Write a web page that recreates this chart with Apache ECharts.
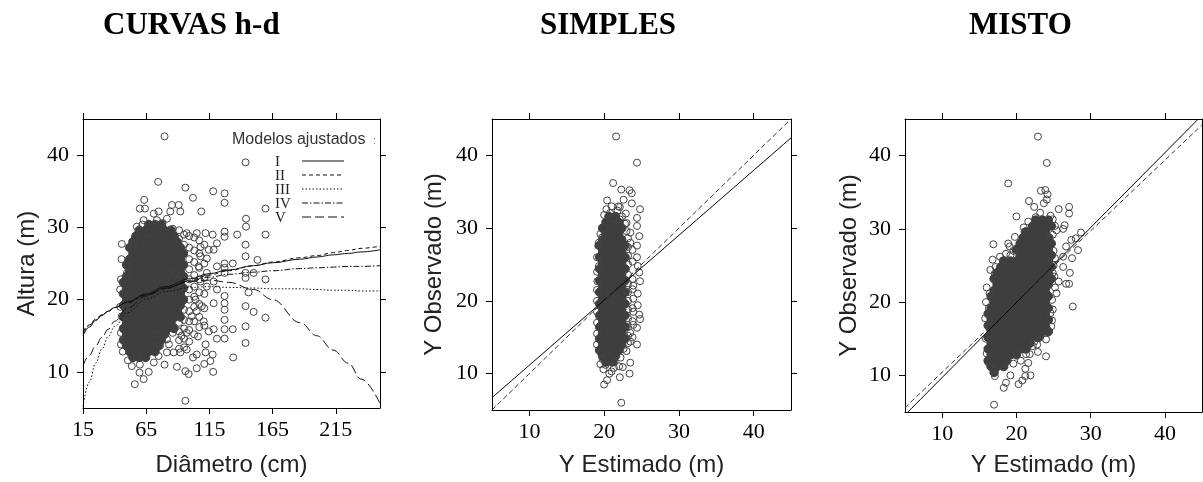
<!DOCTYPE html>
<html><head><meta charset="utf-8">
<script src="https://cdn.jsdelivr.net/npm/echarts@6/dist/echarts.min.js"></script>
<style>html,body{margin:0;padding:0;background:#fff}#c{width:1203px;height:482px}</style>
</head><body><div id="c"></div>
<script>
// ---------- texts & ticks ----------
const titles = ['CURVAS h-d', 'SIMPLES', 'MISTO'];
const xNames = ['Diâmetro (cm)', 'Y Estimado (m)', 'Y Estimado (m)'];
const yNames = ['Altura (m)', 'Y Observado (m)', 'Y Observado (m)'];
const xTicks1 = [15, 65, 115, 165, 215];
const xTicks23 = [10, 20, 30, 40];
const yTicks = [10, 20, 30, 40];
const legendTitle = 'Modelos ajustados';
const modelNames = ['I', 'II', 'III', 'IV', 'V'];

// ---------- fitted h-d curves (panel 1) ----------
const curveD  = [15, 20, 25, 30, 35, 40, 50, 65, 80, 100, 115, 130, 150, 165, 187, 200, 213, 225, 235, 250];
const curveI  = [15.0,16.2,17.1,17.8,18.4,18.9,19.7,20.8,21.8,22.9,23.6,24.1,24.7,25.1,25.6,25.9,26.2,26.4,26.6,26.9];
const curveII = [15.6,16.5,17.3,17.9,18.4,18.9,19.6,20.6,21.5,22.7,23.4,24.0,24.7,25.2,25.8,26.1,26.5,26.8,27.1,27.4];
const curveIII= [5.2,8.6,11.2,13.2,14.9,16.3,18.2,20.1,21.1,21.7,21.8,21.7,21.6,21.5,21.5,21.4,21.3,21.3,21.2,21.2];
const curveIV = [15.3,16.4,17.2,17.9,18.4,18.9,19.6,20.7,21.6,22.6,23.1,23.5,23.8,24.0,24.3,24.4,24.5,24.6,24.6,24.7];
const curveV  = [10.8,12.3,13.6,14.8,15.9,17.0,18.8,20.5,21.6,22.5,22.7,22.4,21.4,20.0,16.8,15.0,13.0,11.2,9.0,5.6];

// ---------- panel 2 / 3 lines ----------
const simplesFit = [[5, 6.7], [45, 42.4]];
const simplesRef = [[5, 5], [45, 45]];
const mistoFit = [[5.4, 5], [44.5, 45]];
const mistoRef = [[5, 5.6], [45, 44.2]];

// ---------- panel 1 points (D, H) ----------
// dense core, rows: [H, [D...]]
const core1 = [
 [30.4,[67,72,77]],
 [29.6,[59.5,64.5,69.5,74.5,79.5,84.5]],
 [28.8,[57,62,67,72,77,82,87]],
 [28.0,[54.5,59.5,64.5,69.5,74.5,79.5,84.5,89.5]],
 [27.2,[52,57,62,67,72,77,82,87,92]],
 [26.4,[54.5,59.5,64.5,69.5,74.5,79.5,84.5,89.5,94.5]],
 [25.6,[52,57,62,67,72,77,82,87,92]],
 [24.8,[49.5,54.5,59.5,64.5,69.5,74.5,79.5,84.5,89.5,94.5]],
 [24.0,[52,57,62,67,72,77,82,87,92]],
 [23.2,[49.5,54.5,59.5,64.5,69.5,74.5,79.5,84.5,89.5,94.5]],
 [22.4,[47,52,57,62,67,72,77,82,87,92]],
 [21.6,[49.5,54.5,59.5,64.5,69.5,74.5,79.5,84.5,89.5,94.5]],
 [20.8,[47,52,57,62,67,72,77,82,87,92]],
 [20.0,[49.5,54.5,59.5,64.5,69.5,74.5,79.5,84.5,89.5,94.5]],
 [19.2,[47,52,57,62,67,72,77,82,87,92]],
 [18.4,[49.5,54.5,59.5,64.5,69.5,74.5,79.5,84.5,89.5]],
 [17.6,[47,52,57,62,67,72,77,82,87,92]],
 [16.8,[49.5,54.5,59.5,64.5,69.5,74.5,79.5,84.5]],
 [16.0,[47,52,57,62,67,72,77,82,87]],
 [15.2,[49.5,54.5,59.5,64.5,69.5,74.5,79.5]],
 [14.4,[47,52,57,62,67,72,77]],
 [13.6,[49.5,54.5,59.5,64.5,69.5,74.5]],
 [12.8,[52,57,62,67,72]],
 [12.0,[54.5,59.5,64.5]]
];
// vertical strings of points, [D, [H...]]
const cols1 = [
 [91,[29.6,28.4,16.8,15.6,14.4,13.2]],
 [95,[29.0,27.6,18.6,17.2,16.0,14.6,13.4]],
 [99,[28.8,27.2,25.6,24.2,22.8,21.4,20.0,18.4,17.0,15.8,14.2]],
 [103,[28.6,26.8,25.2,23.4,21.8,20.4,19.0,17.0,15.2]],
 [107,[28.2,26.4,24.4,22.8,21.0,19.4,17.6,16.2]],
 [111,[27.6,25.0,23.0,20.8,18.8,16.4]]
];
const pts1 = [[79.5,42.6],[143.6,39.0],[74.5,36.3],[96,35.5],[102,34.1],[118,35.0],[127,34.7],[127,33.4],[63.4,33.8],[60,32.6],[64,32.6],[85.4,33.1],[90.7,33.1],[92,32.2],[108.6,32.2],[159.4,32.6],[144,31.2],[144,30.1],[159.4,29.0],[137,29.0],[127,29.4],[127,28.7],[117.6,29.0],[112,29.2],[105,29.2],[97,29.2],[143.6,27.6],[143.6,26.0],[153,25.5],[133.5,25.0],[127,25.0],[127,24.4],[127,23.7],[45.7,27.7],[143.6,23.7],[150,23.7],[159.4,22.8],[143.6,23.0],[146,21.0],[143.6,19.1],[150,18.3],[159.4,17.5],[143.6,16.3],[143.6,14.0],[133.5,15.9],[127,15.9],[127,14.6],[127,17.2],[127,18.6],[127,19.5],[127,20.5],[118.4,19.5],[118.4,15.9],[121,14.6],[114.5,15.6],[112,13.8],[112,12.7],[117.6,12.4],[115.8,11.5],[118,10.0],[111,11.1],[133.8,12.0],[105,12.4],[105,10.5],[102,12.0],[106,14.9],[96,10.1],[98.6,9.7],[96,6.0],[89.3,10.7],[79.5,11.0],[81.4,12.7],[86.7,12.7],[92,12.7],[97,13.1],[93,15.0],[97,15.4],[101,17.7],[105,18.4],[104,20.0],[109,19.1],[110.5,17.0],[108,22.5],[113,21.8],[113,23.7],[118.4,22.5],[121,21.4],[113,25.7],[114.5,26.9],[108,26.0],[108,27.3],[106.5,24.6],[118.4,26.9],[121,27.8],[121,24.6],[59.7,9.9],[63,9.0],[56,8.3],[67,10.0],[60,11.0],[53.6,10.8],[57.6,12.0],[71,11.3],[74.8,12.2],[76,13.6],[81.4,14.5],[73.5,15.2],[45,13.8],[45,15.4],[45.7,17.7],[44.4,21.4],[45,22.8],[49.7,23.7],[51,25.5],[49.7,24.8],[55,27.3],[56.3,28.7],[57.6,30.1],[63,31.0],[71,31.9],[74.8,32.2],[81.4,31.2],[84,32.2],[73.5,31.0],[67,29.2],[44.5,19.0],[45.5,25.6],[46.5,12.8],[50.5,11.6],[86,29.8],[88,23.6],[88.5,18.6],[86,15.4],[83,13.8],[62,30.4],[78,30.6]];

// ---------- panel 2 points (Y estimado simples, H) ----------
const core2 = [
 [31.6,[20.65,21.5]],
 [30.8,[20.25,21.1,21.95]],
 [30.0,[19.8,20.65,21.5,22.35]],
 [29.2,[20.25,21.1,21.95]],
 [28.4,[19.8,20.65,21.5,22.35]],
 [27.6,[19.4,20.25,21.1,21.95,22.8]],
 [26.8,[19.8,20.65,21.5,22.35]],
 [26.0,[19.4,20.25,21.1,21.95,22.8]],
 [25.2,[19.8,20.65,21.5,22.35]],
 [24.4,[19.4,20.25,21.1,21.95,22.8]],
 [23.6,[19.8,20.65,21.5,22.35]],
 [22.8,[19.4,20.25,21.1,21.95,22.8]],
 [22.0,[19.8,20.65,21.5,22.35]],
 [21.2,[19.4,20.25,21.1,21.95,22.8]],
 [20.4,[19.8,20.65,21.5,22.35]],
 [19.6,[19.4,20.25,21.1,21.95,22.8]],
 [18.8,[19.8,20.65,21.5,22.35]],
 [18.0,[19.4,20.25,21.1,21.95,22.8]],
 [17.2,[19.8,20.65,21.5,22.35]],
 [16.4,[19.4,20.25,21.1,21.95,22.8]],
 [15.6,[19.8,20.65,21.5,22.35]],
 [14.8,[19.4,20.25,21.1,21.95,22.8]],
 [14.0,[19.8,20.65,21.5,22.35]],
 [13.2,[19.4,20.25,21.1,21.95]],
 [12.4,[19.8,20.65,21.5]],
 [11.6,[20.25,21.1]]
];
const cols2 = [
 [23.2,[28.6,27.4,26.2,25.0,23.6,22.4,21.2,20.0,18.8,17.6,16.4,15.2,14.2]],
 [23.8,[27.0,25.4,23.0,21.6,19.0,17.2,15.0]],
 [19.05,[26.0,24.0,21.5,20.0,18.5,17.0,15.5,14.0]]
];
const pts2 = [[21.6,42.6],[24.4,39.0],[21.2,36.2],[22.3,35.3],[23.4,35.2],[23.7,34.8],[22.6,33.9],[23.7,33.4],[20.4,33.8],[21.9,33.0],[22.1,32.9],[24.8,32.6],[22.9,32.0],[24.4,31.4],[24.4,30.3],[24.7,28.9],[19.2,27.6],[24.4,27.6],[24.4,26.0],[24.5,24.8],[24.7,23.9],[24.8,22.7],[24.5,21.0],[24.5,19.4],[24.7,18.1],[24.8,17.5],[24.4,16.3],[24.4,14.0],[23.5,15.6],[23.5,14.4],[23.0,13.1],[23.5,11.5],[23.4,10.0],[22.5,10.9],[22.1,9.5],[21.3,10.8],[20.7,10.0],[20.4,9.1],[20.0,8.5],[22.3,6.0],[19.5,11.3],[19.8,12.0],[19.1,22.7],[19.3,24.8],[19.7,28.7],[20.0,30.0],[23.9,20.3],[23.9,22.1],[23.9,18.5],[23.9,16.7],[23.5,28.0],[23.5,29.4],[23.0,30.7],[22.1,31.2],[21.2,31.4],[20.8,32.1],[20.3,32.6],[21.0,33.0],[21.8,32.4],[22.4,31.6],[20.0,31.8],[22.8,30.6],[23.0,29.6],[19.5,29.2],[19.3,28.0],[19.6,12.8],[20.2,11.2],[21.4,11.6],[22.2,12.2],[22.6,13.4],[19.9,10.6],[21.0,10.3],[22.0,11.0]];

// ---------- panel 3 points (Y estimado misto, H) ----------
const core3 = [
 [31.2,[22.6,23.5,24.3]],
 [30.4,[22.2,23.0,23.9,24.7]],
 [29.6,[21.3,22.2,23.0,23.9]],
 [28.8,[20.9,21.8,22.6,23.5,24.3]],
 [28.0,[20.5,21.3,22.2,23.0,23.9,24.7]],
 [27.2,[20.0,20.9,21.8,22.6,23.5,24.3]],
 [26.4,[20.5,21.3,22.2,23.0,23.9,24.7]],
 [25.6,[18.3,19.2,20.0,20.9,21.8,22.6,23.5,24.3]],
 [24.8,[17.9,18.7,19.6,20.5,21.3,22.2,23.0,23.9,24.7]],
 [24.0,[17.4,18.3,19.2,20.0,20.9,21.8,22.6,23.5,24.3]],
 [23.2,[17.0,17.9,18.7,19.6,20.5,21.3,22.2,23.0,23.9,24.7]],
 [22.4,[17.4,18.3,19.2,20.0,20.9,21.8,22.6,23.5,24.3]],
 [21.6,[17.0,17.9,18.7,19.6,20.5,21.3,22.2,23.0,23.9]],
 [20.8,[16.6,17.4,18.3,19.2,20.0,20.9,21.8,22.6,23.5,24.3]],
 [20.0,[17.0,17.9,18.7,19.6,20.5,21.3,22.2,23.0,23.9]],
 [19.2,[16.6,17.4,18.3,19.2,20.0,20.9,21.8,22.6,23.5,24.3]],
 [18.4,[16.2,17.0,17.9,18.7,19.6,20.5,21.3,22.2,23.0,23.9]],
 [17.6,[16.6,17.4,18.3,19.2,20.0,20.9,21.8,22.6,23.5,24.3]],
 [16.8,[16.2,17.0,17.9,18.7,19.6,20.5,21.3,22.2,23.0,23.9]],
 [16.0,[16.6,17.4,18.3,19.2,20.0,20.9,21.8,22.6,23.5,24.3]],
 [15.2,[16.2,17.0,17.9,18.7,19.6,20.5,21.3,22.2,23.0]],
 [14.4,[16.6,17.4,18.3,19.2,20.0,20.9,21.8]],
 [13.6,[16.2,17.0,17.9,18.7,19.6,20.5,21.3]],
 [12.8,[16.6,17.4,18.3,19.2,20.0]],
 [12.0,[16.2,17.0,17.9,18.7]],
 [11.2,[16.6,17.4,18.3]],
 [10.4,[17.0]]
];
const pts3 = [[22.9,42.6],[24.1,39.0],[18.9,36.2],[23.3,35.2],[23.9,35.3],[24.2,34.7],[21.7,33.8],[22.4,33.0],[23.7,33.5],[24.1,34.0],[25.7,32.7],[27.1,33.0],[27.1,32.1],[20.0,31.7],[22.6,31.6],[24.9,31.3],[26.5,30.5],[26.3,30.0],[25.4,29.8],[19.8,28.9],[18.9,28.0],[19.1,27.6],[16.9,27.9],[21.1,29.6],[28.7,29.5],[28.0,28.7],[27.4,28.5],[26.7,27.6],[28.3,27.1],[26.3,26.2],[27.5,26.0],[26.3,24.8],[27.2,24.0],[26.7,22.5],[27.1,22.5],[25.7,22.8],[25.4,21.2],[25.1,23.5],[27.6,19.4],[24.0,12.6],[22.9,13.2],[21.6,11.7],[21.2,10.9],[21.9,10.0],[21.2,9.9],[20.8,9.3],[20.3,8.8],[19.2,10.0],[18.6,9.0],[18.3,8.3],[17.0,6.0],[16.9,10.8],[17.1,9.9],[16.5,11.3],[16.4,16.7],[16.3,19.2],[16.5,24.4],[17.1,23.9],[17.8,26.2],[18.2,25.7],[21.3,12.9],[20.0,12.9],[22.2,14.0],[24.0,14.9],[24.2,15.8],[24.7,16.7],[24.6,18.5],[24.8,20.3],[16.0,22.0],[15.9,20.0],[15.8,17.8],[15.9,15.0],[16.0,13.0],[16.2,11.8],[16.4,21.2],[16.8,25.8],[17.2,24.8],[19.2,26.4],[19.6,27.0],[18.6,26.6],[25.0,27.0],[25.2,26.0],[25.0,25.0],[24.9,24.0],[25.2,22.0],[24.9,19.0],[24.8,17.5],[24.5,28.8],[24.9,29.2],[21.0,13.6],[22.4,14.6],[23.2,15.2],[22.8,14.2],[21.8,12.9],[20.6,12.0],[19.6,11.6],[21.6,31.0],[21.0,30.2],[24.6,31.8],[25.2,30.4],[23.2,32.2]];

// ---------- helpers ----------
function rowsToPairs(rows){ const o=[]; rows.forEach(r=>r[1].forEach(x=>o.push([x,r[0]]))); return o; }
function colsToPairs(cols){ const o=[]; cols.forEach(c=>c[1].forEach(y=>o.push([c[0],y]))); return o; }

const grids = [
  {left:83, top:119, width:297, height:290},
  {left:492, top:119, width:299, height:294},
  {left:905, top:119, width:297, height:294}
];
const xRanges = [[15,250],[5,45],[5,45]];
const xTickSets = [xTicks1, xTicks23, xTicks23];
const xNameGaps = [45, 43, 41];
const yNameGaps = [44, 46, 44];

const LABEL = {fontFamily:'"Liberation Serif", "Times New Roman", serif', fontSize:22, color:'#000'};
const NAME = {fontFamily:'"Liberation Sans", Arial, sans-serif', fontSize:24, color:'#222'};
const LINE = {show:true, onZero:false, lineStyle:{color:'#000', width:1}};

const xAxis = [], yAxis = [];
for (let i = 0; i < 3; i++) {
  const t = xTickSets[i];
  xAxis.push({type:'value', gridIndex:i, position:'bottom', min:xRanges[i][0], max:xRanges[i][1],
    axisLine:LINE, splitLine:{show:false},
    axisTick:{show:true, inside:false, length:6, customValues:t, lineStyle:{color:'#000'}},
    axisLabel:{show:true, customValues:t, margin:11, ...LABEL},
    name:xNames[i], nameLocation:'middle', nameGap:xNameGaps[i], nameTextStyle:NAME});
  xAxis.push({type:'value', gridIndex:i, position:'top', min:xRanges[i][0], max:xRanges[i][1],
    axisLine:LINE, splitLine:{show:false},
    axisTick:{show:true, inside:false, length:6, customValues:t, lineStyle:{color:'#000'}},
    axisLabel:{show:false}});
  yAxis.push({type:'value', gridIndex:i, position:'left', min:5, max:45,
    axisLine:LINE, splitLine:{show:false},
    axisTick:{show:true, inside:false, length:6, customValues:yTicks, lineStyle:{color:'#000'}},
    axisLabel:{show:true, customValues:yTicks, margin:14, ...LABEL},
    name:yNames[i], nameLocation:'middle', nameGap:yNameGaps[i], nameTextStyle:NAME});
  yAxis.push({type:'value', gridIndex:i, position:'right', min:5, max:45,
    axisLine:LINE, splitLine:{show:false},
    axisTick:{show:true, inside:false, length:6, customValues:yTicks, lineStyle:{color:'#000'}},
    axisLabel:{show:false}});
}

const coreStyle = {color:'#3e3e3e', borderColor:'#3e3e3e', borderWidth:1, opacity:1};
const hollowStyle = {color:'rgba(0,0,0,0)', borderColor:'#444', borderWidth:1, opacity:1};
function core(i, data){ return {type:'scatter', xAxisIndex:2*i, yAxisIndex:2*i, data, symbol:'circle', symbolSize:8.5, itemStyle:coreStyle, z:2, silent:true}; }
function hollow(i, data){ return {type:'scatter', xAxisIndex:2*i, yAxisIndex:2*i, data, symbol:'circle', symbolSize:7, itemStyle:hollowStyle, z:2, silent:true}; }
function line(i, data, dash, color){ return {type:'line', xAxisIndex:2*i, yAxisIndex:2*i, data, showSymbol:false, symbol:'none', smooth:0.4, smoothMonotone:'x',
  lineStyle:{color:color||'#111', width:1, type:dash}, z:5, silent:true}; }
const zip = arr => curveD.map((d,k)=>[d, arr[k]]);

const series = [
  core(0, rowsToPairs(core1)), hollow(0, colsToPairs(cols1)), hollow(0, pts1),
  line(0, zip(curveI), 'solid'), line(0, zip(curveII), [4,3]), line(0, zip(curveIII), [1.5,2]),
  line(0, zip(curveIV), [6,2,1.5,2]), line(0, zip(curveV), [9,4]),
  core(1, rowsToPairs(core2)), hollow(1, colsToPairs(cols2)), hollow(1, pts2),
  line(1, simplesFit, 'solid', '#000'), line(1, simplesRef, [5,3], '#333'),
  core(2, rowsToPairs(core3)), hollow(2, pts3),
  line(2, mistoFit, 'solid', '#000'), line(2, mistoRef, [5,3], '#333')
];

// legend drawn inside panel 1
const legendY = [161, 175, 189, 203, 217];
const legendDash = [null, [4,3], [1.5,2], [6,2,1.5,2], [9,4]];
const graphic = [
  {type:'text', x:232, y:140, style:{text:legendTitle, font:'16px "Liberation Sans", Arial, sans-serif', fill:'#333', verticalAlign:'middle'}},
  {type:'text', x:373, y:141, style:{text:':', font:'11px "Liberation Sans", sans-serif', fill:'#3b74d4', verticalAlign:'middle'}}
];
modelNames.forEach((m, k) => {
  graphic.push({type:'text', x:275, y:legendY[k]+1, style:{text:m, font:'15px "Liberation Serif", serif', fill:'#222', verticalAlign:'middle'}});
  graphic.push({type:'line', shape:{x1:302, y1:legendY[k], x2:344, y2:legendY[k]}, style:{stroke:'#111', lineWidth:1, lineDash:legendDash[k]}});
});

const titleLeft = [98, 535, 964];
const option = {
  animation:false,
  backgroundColor:'#fff',
  title: titles.map((t, i) => ({text:t, left:titleLeft[i], top:5,
    textStyle:{fontFamily:'"Liberation Serif", "Times New Roman", serif', fontWeight:'bold', fontSize:31, color:'#000'}})),
  grid: grids,
  xAxis, yAxis, series, graphic
};
const chart = echarts.init(document.getElementById('c'), null, {renderer:'canvas'});
chart.setOption(option);
</script></body></html>
